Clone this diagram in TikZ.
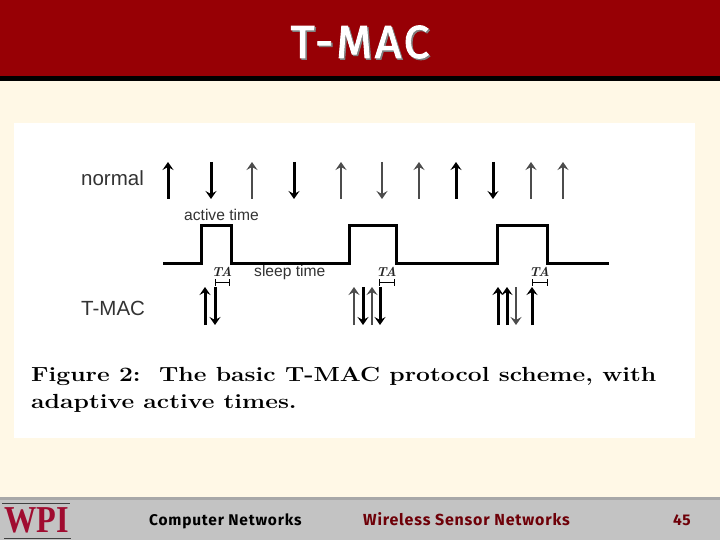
\documentclass[tikz,border=0pt]{standalone}
\usepackage{fontspec}
\setsansfont{Liberation Sans}
\newfontfamily\titlefont[LetterSpace=5]{Fira Sans}
\newfontfamily\headfont[LetterSpace=6, FakeBold=2]{Fira Sans}
\newfontfamily\logofont{Liberation Serif}
\usetikzlibrary{arrows.meta, positioning}
\definecolor{headred}{HTML}{970005}
\definecolor{cream}{HTML}{FFF8E6}
\definecolor{footgrey}{HTML}{C3C3C3}
\definecolor{footline}{HTML}{A8A8A8}
\definecolor{wpired}{HTML}{A00C30}
\definecolor{footred}{HTML}{6E0008}
\tikzset{
    sigbold/.style={-{Stealth[length=8pt, width=11pt, inset=3pt]}, line width=3pt, black},
    sigthin/.style={-{Stealth[length=8pt, width=11pt, inset=3pt]}, line width=2.6pt, black!70},
    pulse/.style={line width=3pt, black, line join=miter},
    bracket/.style={line width=1pt, black},
    label/.style={font=\sffamily\fontsize{20.5}{22}\selectfont, text=black!80, inner sep=0pt},
    smalllabel/.style={font=\sffamily\fontsize{15.6}{17}\selectfont, text=black!80, inner sep=0pt},
    talabel/.style={font=\rmfamily\itshape\bfseries\fontsize{13}{14}\selectfont, text=black!85, inner sep=0pt},
    footlabel/.style={font=\titlefont\bfseries\fontsize{15.5}{17}\selectfont, inner sep=0pt},
    titlelabel/.style={font=\headfont\fontsize{46}{48}\selectfont, inner sep=0pt},
}
\begin{document}
\begin{tikzpicture}[x=1pt, y=-1pt]
        \useasboundingbox (0,0) rectangle (720,540);
        % Background
        \fill[cream] (0,0) rectangle (720,540);
        \fill[headred] (0,0) rectangle (720,76);
        \fill[black] (0,76) rectangle (720,81);
        \fill[white] (14,123) rectangle (695,438);
        \fill[footgrey] (0,497) rectangle (720,540);
        \fill[footline] (0,497) rectangle (720,500);

        % Title
        \node[titlelabel, text=black!50] (title_shadow) at (361.5,43.5) {T-MAC};
        \node[titlelabel, text=white] (title) at (360,42) {T-MAC};

        % Labels
        \node[label, anchor=west] (normal) at (81,178) {normal};
        \node[smalllabel, anchor=west] (active) at (184,215) {active time};
        \node[smalllabel, anchor=west] (sleep) at (254,272) {sleep time};
        \node[label, anchor=west] (tmac) at (81,308) {T-MAC};

        % Normal schedule
        \foreach \x/\s in {168/sigbold, 252/sigthin, 341/sigthin, 419/sigthin, 456/sigbold, 531/sigthin, 563/sigthin}
            \draw[\s] (\x,199) -- (\x,162);
        \foreach \x/\s in {211/sigbold, 294/sigbold, 382/sigthin, 493/sigbold}
            \draw[\s] (\x,162) -- (\x,199);

        % Active and sleep periods
        \draw[pulse] (163,263) -- (201,263) -- (201,226) -- (231,226) -- (231,263)
            -- (349,263) -- (349,226) -- (396,226) -- (396,263)
            -- (497,263) -- (497,226) -- (547,226) -- (547,263) -- (609,263);

        % TA intervals
        \foreach \a/\b in {215/229, 379/394, 532/547} {
            \draw[bracket] (\a,279) -- (\a,286);
            \draw[bracket] (\b,279) -- (\b,286);
            \draw[bracket] (\a,282.5) -- (\b,282.5);
            \node[talabel] at ({(\a+\b)/2},272) {TA};
        }

        % T-MAC schedule
        \foreach \x/\s in {205/sigbold, 354/sigthin, 372/sigthin, 498/sigbold, 507/sigbold, 532/sigbold}
            \draw[\s] (\x,325) -- (\x,287);
        \foreach \x/\s in {215/sigbold, 363/sigbold, 380/sigbold, 516/sigthin}
            \draw[\s] (\x,287) -- (\x,325);

        % Caption
        \node[anchor=north west, align=left, inner sep=0pt, xscale=1.21, transform shape, font=\rmfamily\bfseries\fontsize{20.4}{27.5}\selectfont] (caption) at (31,367)
            {Figure 2:\ \ The basic T-MAC protocol scheme, with\\adaptive active times.};

        % Footer
        \draw[black!75, line width=1pt] (2,503.5) -- (70,503.5);
        \draw[black!75, line width=1pt] (4,538) -- (71,538);
        \node[xscale=0.85, transform shape, font=\logofont\bfseries\fontsize{38}{38}\selectfont, text=wpired, inner sep=0pt] (logo) at (37,520) {WPI};
        \node[footlabel, anchor=base west] (course) at (149,525) {Computer Networks};
        \node[footlabel, anchor=base west, text=footred, font=\titlefont\bfseries\fontsize{16}{17}\selectfont] (topic) at (363,525) {Wireless Sensor Networks};
        \node[footlabel, anchor=base east, text=footred] (page) at (691,525) {45};
    \end{tikzpicture}
\end{document}
